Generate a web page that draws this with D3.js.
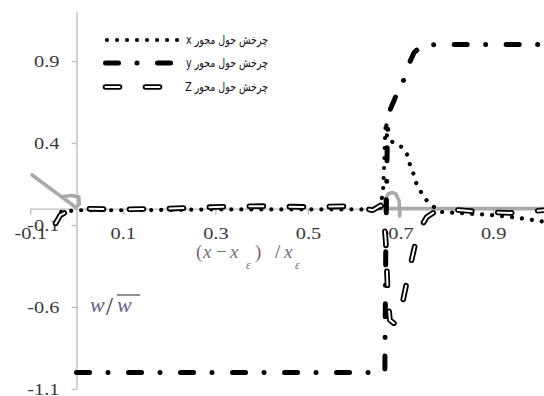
<!DOCTYPE html>
<html>
<head>
<meta charset="utf-8">
<script src="https://cdn.jsdelivr.net/npm/d3@7"></script>
<style>
  body { margin: 0; background: #fff; }
  svg { display: block; }
</style>
</head>
<body>
<svg id="chart" width="544" height="396"></svg>
<script>
// ---- data ----
// rotation about the x axis (dotted)
const rotXPos = [-0.033, 0.0, 0.1, 0.2, 0.3, 0.4, 0.5, 0.6, 0.655, 0.662, 0.665, 0.667, 0.669, 0.671, 0.68, 0.695, 0.705, 0.714, 0.72, 0.727, 0.733, 0.742, 0.753, 0.768, 0.785, 0.83, 0.9, 0.95, 1.01];
const rotXVal = [-0.02, -0.01, -0.01, -0.008, -0.005, -0.005, -0.005, -0.005, -0.005, 0.1, 0.3, 0.48, 0.53, 0.42, 0.41, 0.39, 0.37, 0.33, 0.27, 0.22, 0.16, 0.11, 0.06, 0.02, -0.02, -0.027, -0.04, -0.055, -0.08];

// rotation about the y axis (dash dot)
const rotYPos = [0.0, 0.2, 0.4, 0.6, 0.666, 0.668, 0.671, 0.673, 0.677, 0.692, 0.705, 0.716, 0.729, 0.744, 0.775, 0.9, 1.01];
const rotYVal = [-1.0, -1.0, -1.0, -1.0, -1.0, -0.25, 0.36, 0.53, 0.6, 0.7, 0.77, 0.87, 0.95, 0.99, 1.0, 1.0, 1.0];

// rotation about the z axis (hollow dash)
const rotZPos = [-0.045, -0.035, -0.015, 0.0, 0.1, 0.2, 0.3, 0.4, 0.5, 0.6, 0.64, 0.657, 0.662, 0.668, 0.673, 0.677, 0.686, 0.703, 0.72, 0.738, 0.757, 0.785, 0.85, 0.936, 1.01];
const rotZVal = [-0.09, -0.04, -0.01, 0.0, -0.005, 0.0, 0.01, 0.015, 0.01, 0.015, -0.01, 0.02, 0.0, -0.2, -0.56, -0.68, -0.70, -0.59, -0.36, -0.14, -0.05, 0.0, -0.015, -0.027, -0.01];

// grey reference line (three pieces)
const greyLoopPos = [-0.096, -0.001, 0.006, 0.005, -0.01, -0.029];
const greyLoopVal = [0.205, 0.007, 0.028, 0.07, 0.08, 0.074];
const greyBumpPos = [0.666, 0.666, 0.673, 0.682, 0.69, 0.697, 0.698];
const greyBumpVal = [0.0, 0.052, 0.089, 0.098, 0.089, 0.046, -0.045];
const greyFlatPos = [0.64, 1.01];
const greyFlatVal = [0.0, 0.0];

const xTicks = [-0.1, 0.1, 0.3, 0.5, 0.7, 0.9];
const yTicks = [-1.1, -0.6, -0.1, 0.4, 0.9];
const legendLabels = ["چرخش حول محور x", "چرخش حول محور y", "چرخش حول محور Z"];

// ---- chart ----
const svg = d3.select("#chart");
const x = d3.scaleLinear().domain([-0.1, 1.01]).range([30.2, 544.1]);
const y = d3.scaleLinear().domain([-1.1, 1.2]).range([389, 11.8]);
const fmt = d => d.toFixed(1);
const stretch = 1.2;

const xAxis = svg.append("g")
    .attr("transform", "translate(0," + y(0) + ")")
    .call(d3.axisBottom(x).tickValues(xTicks).tickSize(6).tickSizeOuter(0).tickPadding(12).tickFormat(fmt));
const yAxis = svg.append("g")
    .attr("transform", "translate(" + x(0) + ",0)")
    .call(d3.axisLeft(y).tickValues(yTicks).tickSize(5).tickSizeOuter(0).tickPadding(12).tickFormat(fmt));

[xAxis, yAxis].forEach(function(g) {
  g.select(".domain").attr("stroke", "#bdbdbd").attr("stroke-width", 1.4);
  g.selectAll(".tick line").attr("stroke", "#bdbdbd").attr("stroke-width", 1.4);
  g.selectAll(".tick text")
      .attr("fill", "#3a3a3a")
      .style("font-family", "'Liberation Serif', 'DejaVu Serif', serif")
      .style("font-size", "17px");
});
yAxis.selectAll(".tick text").attr("x", -17 / stretch).attr("dy", "0.3em").attr("transform", "scale(" + stretch + ",1)");
xAxis.selectAll(".tick text").attr("transform", "scale(" + stretch + ",1)");

const pts = (xs, vs) => xs.map((v, i) => [v, vs[i]]);
const line = d3.line().x(d => x(d[0])).y(d => y(d[1]));

// styles for each series
function dotted(sel) {
  sel.attr("fill", "none").attr("stroke", "#000").attr("stroke-width", 4.2)
     .attr("stroke-linecap", "round").attr("stroke-dasharray", "0.01,10");
}
function dashDot(sel) {
  sel.attr("fill", "none").attr("stroke", "#000").attr("stroke-width", 5)
     .attr("stroke-linecap", "round").attr("stroke-linejoin", "round")
     .attr("stroke-dasharray", "13,18.5,0.01,20.5");
}
function hollowOuter(sel) {
  sel.attr("fill", "none").attr("stroke", "#000").attr("stroke-width", 5.6)
     .attr("stroke-linecap", "round").attr("stroke-linejoin", "round")
     .attr("stroke-dasharray", "14,26");
}
function hollowInner(sel) {
  sel.attr("fill", "none").attr("stroke", "#fff").attr("stroke-width", 2)
     .attr("stroke-linecap", "round").attr("stroke-linejoin", "round")
     .attr("stroke-dasharray", "14,26");
}

// grey line
[[greyLoopPos, greyLoopVal], [greyBumpPos, greyBumpVal], [greyFlatPos, greyFlatVal]].forEach(function(s) {
  svg.append("path").datum(pts(s[0], s[1]))
      .attr("d", line)
      .attr("fill", "none").attr("stroke", "#a9a9a9").attr("stroke-width", 3.6)
      .attr("stroke-linecap", "round").attr("stroke-linejoin", "round");
});

svg.append("path").datum(pts(rotXPos, rotXVal)).attr("d", line).call(dotted);
svg.append("path").datum(pts(rotYPos, rotYVal)).attr("d", line).call(dashDot);
svg.append("path").datum(pts(rotZPos, rotZVal)).attr("d", line).call(hollowOuter);
svg.append("path").datum(pts(rotZPos, rotZVal)).attr("d", line).call(hollowInner);

// legend
const legend = svg.append("g");
const legendRows = [40, 63, 87];
const legendStyles = [[dotted], [dashDot], [hollowOuter, hollowInner]];
legendLabels.forEach(function(label, i) {
  const ly = legendRows[i];
  const x0 = i === 0 ? 107 : 105.5, x1 = i === 0 ? 178 : (i === 1 ? 175 : 163);
  legendStyles[i].forEach(function(st) {
    legend.append("path").attr("d", "M" + x0 + "," + ly + "H" + x1).call(st);
  });
  legend.append("g")
      .attr("transform", "translate(268," + (ly + 4) + ") scale(0.79,1)")
    .append("text")
      .attr("direction", "rtl")
      .attr("text-anchor", "start")
      .style("font-family", "'DejaVu Sans', sans-serif")
      .style("font-size", "12px")
      .attr("fill", "#111")
      .text(label);
});

// axis titles (equation images in the original)
const titleFont = "'Liberation Serif', 'DejaVu Serif', serif";
const xt = svg.append("g").style("font-family", titleFont).style("font-size", "19px");
xt.append("text").attr("x", 196).attr("y", 258).attr("fill", "#8a5a86").text("(");
xt.append("text").attr("x", 203).attr("y", 258).attr("fill", "#6e6e7e").style("font-style", "italic").text("x");
xt.append("text").attr("x", 216).attr("y", 258).attr("fill", "#6e6e7e").text("\u2212");
xt.append("text").attr("x", 230).attr("y", 258).attr("fill", "#6e6e7e").style("font-style", "italic").text("x");
xt.append("text").attr("x", 246).attr("y", 269).attr("fill", "#6e6e7e").style("font-size", "12px").style("font-style", "italic").text("\u03b5");
xt.append("text").attr("x", 255).attr("y", 258).attr("fill", "#8a5a86").text(")");
xt.append("text").attr("x", 275).attr("y", 258).attr("fill", "#555").text("/");
xt.append("text").attr("x", 284).attr("y", 258).attr("fill", "#6e6e7e").style("font-style", "italic").text("x");
xt.append("text").attr("x", 295).attr("y", 269).attr("fill", "#6e6e7e").style("font-size", "12px").style("font-style", "italic").text("\u03b5");

const yt = svg.append("g").style("font-family", titleFont).style("font-size", "22px").style("font-style", "italic");
yt.append("text").attr("x", 90).attr("y", 312).attr("fill", "#6a5d86").text("w");
yt.append("text").attr("x", 106).attr("y", 315).attr("fill", "#333").style("font-style", "normal").style("font-size", "25px").text("/");
yt.append("text").attr("x", 117).attr("y", 312).attr("fill", "#6a5d86").text("w");
yt.append("line").attr("x1", 117).attr("x2", 140).attr("y1", 295).attr("y2", 295)
    .attr("stroke", "#555").attr("stroke-width", 1.3);
</script>
</body>
</html>
